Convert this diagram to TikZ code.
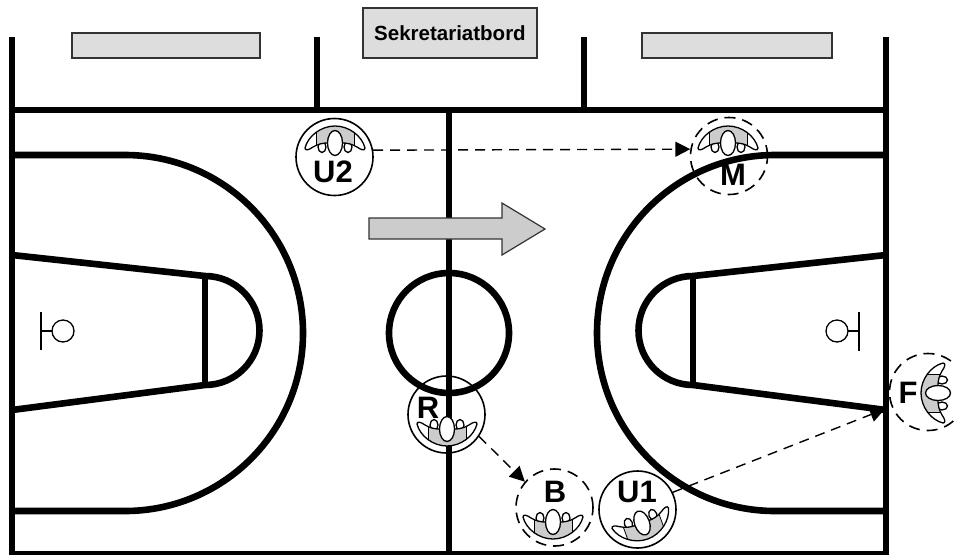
\documentclass[tikz,border=0pt]{standalone}
\usepackage{fontspec}
\setmainfont{Liberation Sans}
\usetikzlibrary{arrows.meta,positioning}
\definecolor{tablegray}{HTML}{DDDDDD}
\definecolor{backgray}{HTML}{CCCCCC}
\newcommand\playerarms{(-30,5) .. controls (-27,-7) and (-14,-17) .. (0,-17) .. controls (14,-17) and (27,-7) .. (30,5) .. controls (30,8) and (26,7) .. (22,4) .. controls (17,1) and (12,0) .. (8,0) -- (-8,0) .. controls (-12,0) and (-17,1) .. (-22,4) .. controls (-26,7) and (-30,8) .. (-30,5) -- cycle}
\tikzset{
	courtline/.style = {line width=6.6pt},
	thinline/.style = {line width=1.3pt},
	table/.style = {draw=black!80, fill=tablegray, line width=1.2pt, rectangle, inner sep=0pt},
	player/.style = {draw, circle, line width=1.6pt, minimum size=77pt, inner sep=0pt},
	ghost/.style = {player, dash pattern=on 11pt off 7pt},
	plabel/.style = {font=\bfseries\fontsize{31}{31}\selectfont, inner sep=0pt},
	run/.style = {line width=1.4pt, dash pattern=on 10pt off 7pt, -{Triangle[length=15pt,width=15pt]}},
	playerfig/.pic = {
		\draw[thinline, fill=white] (-13,4) ellipse [x radius=4, y radius=5.5];
		\draw[thinline, fill=white] (13,4) ellipse [x radius=4, y radius=5.5];
		\fill[white] \playerarms;
		\begin{scope}
			\clip \playerarms;
			\draw[line width=0.8pt, fill=backgray] (-19,-20) rectangle (19,8);
		\end{scope}
		\draw[thinline] \playerarms;
		\draw[thinline, fill=white] (0,0) ellipse [x radius=7.5, y radius=12.5];
	},
}
\begin{document}
\begin{tikzpicture}[x=1pt, y=-1pt]
	\clip (0,0) rectangle (955,555);
	\useasboundingbox (0,0) rectangle (955,555);

	% court
	\draw[courtline] (12,37) -- (12,553);
	\draw[courtline] (886,37) -- (886,553);
	\draw[courtline] (317,37) -- (317,110);
	\draw[courtline] (584,37) -- (584,110);
	\draw[courtline] (9,110) -- (889,110);
	\draw[courtline] (449,110) -- (449,553);
	\draw[line width=4pt] (9,553) -- (889,553);
	\draw[courtline] (449,333) circle [radius=60];

	% left half
	\draw[courtline] (12,155) -- (125,155) arc [start angle=-90, end angle=90, radius=178] -- (12,511);
	\draw[courtline] (12,255) -- (205,276) arc [start angle=-90, end angle=90, radius=54.5] -- (12,410);
	\draw[courtline] (205,276) -- (205,385);
	\draw[thinline] (41,312) -- (41,350) (41,331) -- (52,331);
	\draw[thinline] (63,331) circle [radius=11];

	% right half
	\draw[courtline] (886,155) -- (775,155) arc [start angle=270, end angle=90, radius=178] -- (886,511);
	\draw[courtline] (886,255) -- (693,276) arc [start angle=270, end angle=90, radius=54.5] -- (886,410);
	\draw[courtline] (693,276) -- (693,385);
	\draw[thinline] (859,312) -- (859,351) (859,331) -- (848,331);
	\draw[thinline] (837,331) circle [radius=11];

	% tables
	\node (benchLeft) [table, minimum width=188pt, minimum height=25pt] at (166,45.5) {};
	\node (benchRight) [table, minimum width=190pt, minimum height=25pt] at (737,45.5) {};
	\node (secretary) [table, minimum width=174pt, minimum height=50pt, font=\bfseries\fontsize{20.5}{20.5}\selectfont] at (450,33) {Sekretariatbord};

	% direction of play
	\draw[draw=black!80, fill=backgray, line width=1.2pt] (369,218) -- (502,218) -- (502,203) -- (545,229) -- (502,255) -- (502,239) -- (369,239) -- cycle;

	% players
	\node (U2) [player] at (334.5,157) {};
	\node (M) [ghost] at (729,156) {};
	\node (R) [player] at (446.5,414.5) {};
	\node (B) [ghost] at (554.5,507.5) {};
	\node (U1) [player] at (637.5,509.5) {};
	\node (F) [ghost] at (928,392) {};
	\coordinate (Ftip) at (885,409);

	\pic at (335,143) {playerfig};
	\pic at (728,143) {playerfig};
	\pic [rotate=180] at (447,429) {playerfig};
	\pic [rotate=180] at (553,522) {playerfig};
	\pic [rotate=200] at (642,523) {playerfig};
	\pic [rotate=90] at (938,393) {playerfig};

	\node (U2label) [plabel] at (333,172) {U2};
	\node (Mlabel) [plabel] at (733,175) {M};
	\node (Rlabel) [plabel] at (428,408) {R};
	\node (Blabel) [plabel] at (555,492) {B};
	\node (U1label) [plabel] at (637,492) {U1};
	\node (Flabel) [plabel] at (908,393) {F};

	% runs
	\draw[run] (U2.10) -- (M.170);
	\draw[run] (R.-34) -- (B.139);
	\draw[run] (U1.26) -- (Ftip);

\end{tikzpicture}
\end{document}
